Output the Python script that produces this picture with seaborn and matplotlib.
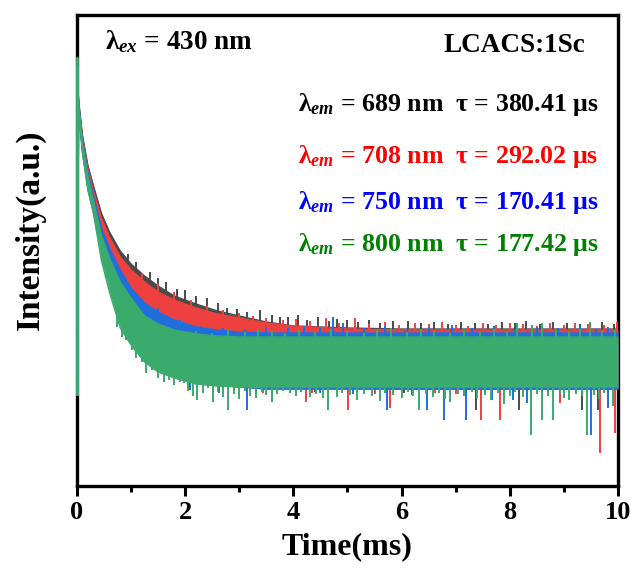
import numpy as np
import pandas as pd
import matplotlib
matplotlib.use('Agg')
import matplotlib.pyplot as plt
import seaborn as sns
from matplotlib.ticker import MultipleLocator

# emission wavelengths / lifetimes shown in the annotation
wavelengths = ['689', '708', '750', '800']
lifetimes = ['380.41', '292.02', '170.41', '177.42']

# time axis (ms) for the decay envelopes, t=0 is the excitation pulse
time = [0, 0.03, 0.1, 0.2, 0.3, 0.45, 0.6, 0.8, 1.0, 1.25, 1.5, 1.8, 2.2, 2.6,
        3.0, 3.5, 4.0, 5.0, 6.0, 7.0, 8.0, 9.0, 10.0]

# upper / lower edge of the dense part of each noisy decay trace (a.u.)
upper_689 = [415, 386, 351, 321, 301, 273, 254, 235, 222, 210, 200, 190, 182, 175,
             170, 164, 160, 158, 157, 157, 157, 157, 157]
lower_689 = [91, 378, 338, 306, 283, 250, 228, 206, 191, 176, 164, 151, 138, 128,
             121, 114, 108, 101, 99, 98, 98, 98, 98]
upper_708 = [418, 384, 348, 318, 296, 268, 249, 229, 216, 204, 194, 186, 178, 172,
             168, 163, 160, 157, 156, 156, 156, 156, 156]
lower_708 = [91, 378, 336, 302, 278, 244, 220, 194, 176, 160, 148, 136, 124, 116,
             110, 105, 101, 98, 97, 97, 97, 97, 97]
upper_750 = [420, 384, 346, 314, 291, 258, 238, 216, 198, 183, 174, 166, 159, 156,
             154, 153, 153, 153, 153, 153, 153, 153, 153]
lower_750 = [91, 376, 334, 298, 274, 236, 206, 170, 150, 134, 122, 113, 106, 101,
             99, 97, 97, 97, 97, 97, 97, 97, 97]
upper_800 = [429, 382, 343, 310, 286, 251, 228, 204, 188, 170, 162, 156, 152, 150,
             149, 149, 149, 149, 149, 149, 149, 149, 149]
lower_800 = [91, 376, 334, 296, 274, 226, 194, 158, 141, 124, 114, 108, 102, 100,
             99, 99, 99, 99, 99, 99, 99, 99, 99]

# single noise spikes sticking out of the bands: (time ms, tip a.u.)
down_689 = [(3.3, 92), (4.4, 94), (5.29, 99), (6.05, 93), (6.9, 92), (7.38, 76),
            (8.17, 76), (8.7, 92), (9.33, 76), (9.63, 76)]
up_689 = [(0.95, 232), (1.1, 224), (1.35, 214), (1.5, 208), (1.65, 204), (1.85, 197),
          (2.0, 196), (2.2, 190), (2.4, 188), (2.6, 183), (2.77, 178), (2.95, 177),
          (3.15, 174), (3.38, 176), (3.6, 171), (3.75, 169), (3.9, 169), (4.09, 171),
          (4.25, 166), (4.45, 169), (4.65, 165), (4.8, 167), (4.99, 166), (5.2, 164),
          (5.4, 166), (5.6, 163), (5.85, 165), (6.12, 165), (6.35, 163), (6.6, 164),
          (6.85, 162), (7.1, 164), (7.35, 163), (7.6, 162), (7.85, 164), (8.1, 163),
          (8.3, 165), (8.55, 162), (8.8, 164), (9.05, 163), (9.3, 162), (9.48, 163),
          (9.7, 164), (9.92, 162)]
down_708 = [(3.44, 93), (4.23, 84), (4.34, 93), (5.01, 76), (5.5, 92), (5.79, 78),
            (6.62, 93), (7.0, 92), (7.47, 66), (7.82, 66), (8.4, 91), (8.93, 83),
            (9.67, 33), (9.94, 53)]
up_708 = [(1.2, 213), (1.5, 203), (1.8, 194), (2.1, 186), (2.4, 181), (2.7, 176),
          (3.0, 173), (3.25, 170), (3.5, 168), (3.8, 166), (4.05, 167), (4.3, 165),
          (4.6, 168), (4.85, 163), (5.14, 168), (5.4, 162), (5.7, 164), (5.95, 161),
          (6.25, 163), (6.5, 162), (6.75, 164), (7.0, 161), (7.23, 160), (7.5, 163),
          (7.75, 161), (8.0, 163), (8.25, 162), (8.5, 160), (8.75, 163), (9.0, 161),
          (9.2, 163), (9.45, 162), (9.75, 161), (9.98, 164)]
down_750 = [(2.09, 96), (2.62, 93), (3.14, 76), (3.72, 99), (3.81, 99), (4.5, 93),
            (5.1, 92), (5.73, 76), (6.2, 91), (6.47, 76), (6.78, 66), (7.19, 66),
            (7.67, 86), (8.06, 86), (8.32, 83), (9.0, 92), (9.5, 51), (9.81, 78)]
up_750 = [(1.5, 178), (1.9, 166), (2.3, 160), (2.7, 158), (3.1, 157), (3.5, 159),
          (3.9, 158), (4.2, 160), (4.5, 158), (4.73, 169), (4.92, 163), (5.3, 158),
          (5.7, 160), (6.1, 157), (6.5, 159), (6.93, 161), (7.3, 158), (7.7, 160),
          (8.1, 157), (8.5, 159), (8.9, 158), (9.3, 160), (9.6, 157), (9.81, 159)]
down_800 = [(0.74, 159), (0.83, 149), (0.9, 146), (1.02, 136), (1.1, 128), (1.2, 124),
            (1.28, 113), (1.38, 116), (1.5, 108), (1.61, 104), (1.7, 106), (1.8, 101),
            (1.9, 104), (1.98, 103), (2.05, 95), (2.15, 90), (2.22, 86), (2.33, 93),
            (2.42, 98), (2.51, 84), (2.6, 94), (2.7, 89), (2.79, 76), (2.9, 92),
            (3.0, 87), (3.1, 95), (3.2, 90), (3.3, 88), (3.42, 94), (3.5, 91),
            (3.6, 84), (3.7, 92), (3.8, 95), (3.94, 93), (4.05, 90), (4.15, 94),
            (4.3, 89), (4.42, 92), (4.55, 88), (4.64, 76), (4.81, 89), (4.9, 93),
            (5.05, 91), (5.18, 86), (5.3, 92), (5.45, 90), (5.6, 85), (5.7, 93),
            (5.85, 91), (6.0, 88), (6.12, 94), (6.22, 90), (6.32, 76), (6.45, 92),
            (6.58, 89), (6.7, 93), (6.8, 87), (6.9, 84), (7.05, 92), (7.15, 90),
            (7.3, 94), (7.4, 88), (7.55, 91), (7.65, 86), (7.78, 93), (7.9, 82),
            (8.0, 90), (8.1, 94), (8.25, 89), (8.39, 51), (8.5, 92), (8.6, 66),
            (8.7, 90), (8.8, 66), (8.92, 93), (9.0, 88), (9.1, 86), (9.22, 92),
            (9.33, 90), (9.43, 51), (9.55, 91), (9.65, 87), (9.75, 93), (9.9, 80)]
up_800 = [(2.2, 155), (2.5, 153), (2.8, 156), (3.1, 154), (3.35, 157), (3.6, 155),
          (3.85, 153), (4.1, 156), (4.4, 154), (4.7, 157), (5.0, 155), (5.3, 153),
          (5.55, 156), (5.8, 158), (6.1, 154), (6.35, 157), (6.6, 155), (6.9, 153),
          (7.15, 156), (7.45, 154), (7.7, 157), (7.95, 155), (8.13, 163), (8.41, 161),
          (8.6, 163), (8.85, 156), (9.1, 154), (9.3, 157), (9.48, 164), (9.7, 155),
          (9.95, 156)]

line_colors = ['#4a4a4a', '#ef4040', '#1f6ede', '#3aab6c']
text_colors = ['#000000', '#ff0000', '#0000ff', '#008000']

uppers = [upper_689, upper_708, upper_750, upper_800]
lowers = [lower_689, lower_708, lower_750, lower_800]
downs = [down_689, down_708, down_750, down_800]
ups = [up_689, up_708, up_750, up_800]

frames = []
for wl, up, lo in zip(wavelengths, uppers, lowers):
    frames.append(pd.DataFrame({'time': time, 'upper': up, 'lower': lo, 'series': wl}))
df = pd.concat(frames, ignore_index=True)

sns.set_theme(style='ticks')
plt.rcParams['font.family'] = ['Liberation Serif', 'DejaVu Serif']
plt.rcParams['font.weight'] = 'bold'
plt.rcParams['axes.labelweight'] = 'bold'
plt.rcParams['mathtext.fontset'] = 'custom'
plt.rcParams['mathtext.rm'] = 'Liberation Serif:bold'
plt.rcParams['mathtext.it'] = 'Liberation Serif:italic:bold'
plt.rcParams['mathtext.bf'] = 'Liberation Serif:bold'

fig = plt.figure(figsize=(6.33, 5.77), dpi=100)
ax = fig.add_axes([0.1216, 0.1577, 0.8547, 0.8163])

for i, (wl, c) in enumerate(zip(wavelengths, line_colors)):
    sub = df[df['series'] == wl]
    z = 3 + i
    ax.fill_between(sub['time'], sub['lower'], sub['upper'], color=c, lw=0, zorder=z)
    sns.lineplot(data=sub, x='time', y='upper', color=c, lw=1.0, ax=ax, zorder=z,
                 sort=False, estimator=None)
    sns.lineplot(data=sub, x='time', y='lower', color=c, lw=1.0, ax=ax, zorder=z,
                 sort=False, estimator=None)
    # rise at the excitation pulse
    ax.vlines(sub['time'].iloc[0], sub['lower'].iloc[0], sub['upper'].iloc[0],
              color=c, lw=2.0, zorder=z, clip_on=False)
    for t, tip in downs[i]:
        base = np.interp(t, sub['time'], sub['lower']) + 6
        ax.vlines(t, tip, base, color=c, lw=1.4, zorder=z)
    for t, tip in ups[i]:
        base = np.interp(t, sub['time'], sub['upper']) - 6
        ax.vlines(t, base, tip, color=c, lw=1.4, zorder=z)

ax.set_xlim(0, 10)
ax.set_ylim(0, 471)
ax.set_yticks([])
ax.xaxis.set_major_locator(MultipleLocator(2))
ax.xaxis.set_minor_locator(MultipleLocator(1))
ax.tick_params(axis='x', which='major', direction='out', length=7, width=2.2,
               labelsize=19, pad=4, color='black', labelcolor='black')
ax.tick_params(axis='x', which='minor', direction='out', length=4, width=2.2, color='black')
for sp in ax.spines.values():
    sp.set_linewidth(2.4)
    sp.set_color('black')
    sp.set_visible(True)

ax.set_xlabel('Time(ms)', fontsize=23, color='black', labelpad=6)
ax.set_ylabel('Intensity(a.u.)', fontsize=24, color='black')
ax.yaxis.set_label_coords(-0.058, 0.545)

ax.text(0.052, 0.943, 'λ$_{ex}$ = 430 nm', transform=ax.transAxes, fontsize=19.5,
        va='center', ha='left', color='black')
ax.text(0.939, 0.936, 'LCACS:1Sc', transform=ax.transAxes, fontsize=19.5,
        va='center', ha='right', color='black')
label_y = [0.809, 0.699, 0.601, 0.512]
for wl, tau, tc, yy in zip(wavelengths, lifetimes, text_colors, label_y):
    ax.text(0.4085, yy, f'λ$_{{em}}$ = {wl} nm  τ = {tau} μs', transform=ax.transAxes,
            fontsize=18.6, va='center', ha='left', color=tc)

fig.savefig('out.png', dpi=100)
